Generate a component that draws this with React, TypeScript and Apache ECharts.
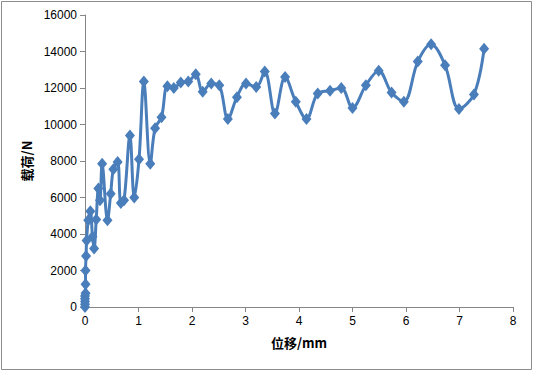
import React, { useEffect, useRef } from "react";
import * as echarts from "echarts";

const displacement = [
  0, 0, 0, 0, 0, 0.01, 0.01, 0.01, 0.02, 0.03, 0.06, 0.1, 0.14, 0.17, 0.21, 0.25, 0.28, 0.32,
  0.42, 0.48, 0.53, 0.61, 0.67, 0.73, 0.84, 0.92, 1.01, 1.1, 1.22, 1.31, 1.43, 1.54, 1.66,
  1.79, 1.93, 2.07, 2.2, 2.36, 2.51, 2.67, 2.84, 3.01, 3.2, 3.36, 3.55, 3.74, 3.94, 4.14,
  4.35, 4.58, 4.79, 5.0, 5.25, 5.49, 5.73, 5.96, 6.22, 6.47, 6.73, 6.99, 7.27, 7.46,
];
const load = [
  0, 150, 300, 450, 600, 750, 1250, 2000, 2800, 3650, 4750, 5250, 3850, 3200, 4800, 6500, 5850,
  7850, 4750, 6200, 7550, 7950, 5700, 5850, 9400, 6000, 8100, 12350, 7850, 9800, 10400, 12100,
  12000, 12300, 12350, 12750, 11800, 12250, 12150, 10300, 11500, 12250, 12050, 12900, 10600,
  12600, 11250, 10300, 11700, 11850, 12000, 10900, 12150, 12950, 11750, 11250, 13450, 14400,
  13250, 10850, 11650, 14150,
];
const xTicks = { min: 0, max: 8, interval: 1 };
const yTicks = { min: 0, max: 16000, interval: 2000 };

export default function App() {
  const ref = useRef<HTMLDivElement>(null);
  useEffect(() => {
    if (!ref.current) return;
    const chart = echarts.init(ref.current, null, { renderer: "svg" });
    const axisColor = "#868686";
    const font = "Liberation Sans, Arial, sans-serif";
    chart.setOption({
      animation: false,
      backgroundColor: "#ffffff",
      graphic: [
        {
          type: "rect",
          shape: { x: 1.5, y: 1.5, width: 530, height: 368 },
          style: { fill: "none", stroke: "#8c8c8c", lineWidth: 1 },
          silent: true,
        },
      ],
      grid: { left: 85, right: 20, top: 15, bottom: 64 },
      xAxis: {
        type: "value",
        ...xTicks,
        name: "位移/mm",
        nameLocation: "middle",
        nameGap: 29,
        nameTextStyle: { fontSize: 13, fontWeight: "bold", color: "#000", fontFamily: "Noto Sans CJK SC, sans-serif" },
        axisLine: { show: true, onZero: false, lineStyle: { color: axisColor, width: 1 } },
        axisTick: { show: true, length: 5, lineStyle: { color: axisColor } },
        axisLabel: { color: "#000", fontSize: 12, fontFamily: font, margin: 8, formatter: (v: number) => String(v) },
        splitLine: { show: false },
      },
      yAxis: {
        type: "value",
        ...yTicks,
        name: "载荷/N",
        nameLocation: "middle",
        nameGap: 50,
        nameTextStyle: { fontSize: 13, fontWeight: "bold", color: "#000", fontFamily: "Noto Sans CJK SC, sans-serif" },
        axisLine: { show: true, lineStyle: { color: axisColor, width: 1 } },
        axisTick: { show: true, length: 5, lineStyle: { color: axisColor } },
        axisLabel: { color: "#000", fontSize: 12, fontFamily: font, margin: 8, formatter: (v: number) => String(v) },
        splitLine: { show: false },
      },
      series: [
        {
          type: "line",
          data: displacement.map((x, i) => [x, load[i]]),
          smooth: 0.35,
          symbol: "diamond",
          symbolSize: [10, 12],
          showAllSymbol: true,
          lineStyle: { color: "#4A7EBB", width: 3 },
          itemStyle: { color: "#4A7EBB" },
        },
      ],
    });
    return () => chart.dispose();
  }, []);
  return (
    <div
      ref={ref}
      style={{ position: "absolute", left: 0, top: 0, width: 533, height: 371 }}
    />
  );
}
